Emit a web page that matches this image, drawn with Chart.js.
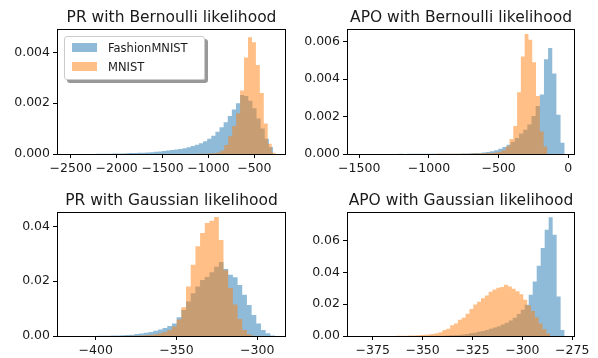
<!DOCTYPE html>
<html>
<head>
<meta charset="utf-8">
<script src="https://cdn.jsdelivr.net/npm/chart.js@4.4.1/dist/chart.umd.min.js"></script>
<style>
  html, body { margin: 0; padding: 0; background: #fff; }
  #fig { position: relative; width: 598px; height: 358px; overflow: hidden; font-family: 'DejaVu Sans', sans-serif; }
  .panel { position: absolute; width: 299px; height: 179px; }
  .legend { position: absolute; left: 64px; top: 36px; width: 141px; height: 44px; box-sizing: border-box;
            background: rgba(255,255,255,.8); border: 1px solid #ccc; border-radius: 3px;
            box-shadow: 3px 3px 0 rgba(0,0,0,.4); font-size: 11.5px; color: #1a1a1a; }
  .legend .sw { position: absolute; left: 7px; width: 25px; height: 9px; }
  .legend .lb { position: absolute; left: 43px; line-height: 12px; white-space: nowrap; }
</style>
</head>
<body>
<div id="fig">
  <div class="panel" style="left:0;top:0"><canvas id="c0" width="299" height="179"></canvas></div>
  <div class="panel" style="left:299px;top:0"><canvas id="c1" width="299" height="179"></canvas></div>
  <div class="panel" style="left:0;top:179px"><canvas id="c2" width="299" height="179"></canvas></div>
  <div class="panel" style="left:299px;top:179px"><canvas id="c3" width="299" height="179"></canvas></div>
  <div class="legend">
    <div class="sw" style="top:6px;background:rgba(31,119,180,.5)"></div><div class="lb" style="top:5px">FashionMNIST</div>
    <div class="sw" style="top:25px;background:rgba(255,127,14,.5)"></div><div class="lb" style="top:24px">MNIST</div>
  </div>
</div>
<script>
// Four density histograms (FashionMNIST vs MNIST).
// Each series: bins = [first edge, bin width], heights = density per bin.

const titles = ['PR with Bernoulli likelihood', 'APO with Bernoulli likelihood',
                'PR with Gaussian likelihood', 'APO with Gaussian likelihood'];
const seriesNames = ['FashionMNIST', 'MNIST'];

const BLUE = 'rgba(31,119,180,0.5)';
const ORANGE = 'rgba(255,127,14,0.5)';
const INK = '#1a1a1a';

// --- PR / Bernoulli
const prBernXTicks = [-2500, -2000, -1500, -1000, -500];
const prBernYTicks = [0, 0.002, 0.004];
const prBernFashionBins = [-2537, 44.8];
const prBernFashion = [
  0.000004, 0, 0, 0.000004, 0, 0.000004, 0.000004, 0.000008, 0.000008, 0.000012, 0.000012, 0.000016, 0.00002,
  0.000024, 0.00003, 0.000035, 0.00004, 0.000045, 0.00005, 0.00006, 0.00007, 0.000085, 0.0001, 0.00012, 0.00014, 0.00016, 0.00018, 0.0002,
  0.00023, 0.00027, 0.00031, 0.00036, 0.00042, 0.0005, 0.0006, 0.00072, 0.00088, 0.00105, 0.00125, 0.0015, 0.00175, 0.002, 0.00232,
  0.00228, 0.0021, 0.0018, 0.0014, 0.001, 0.0006, 0.00028];
const prBernMnistBins = [-2418, 43];
const prBernMnist = [
  0, 0, 0, 0, 0, 0, 0, 0, 0, 0, 0, 0, 0, 0, 0, 0, 0, 0, 0, 0, 0, 0, 0, 0, 0, 0,
  0.000004, 0, 0.000004, 0.000004, 0.000008, 0.000008, 0.000012, 0.00002, 0.00003, 0.00006, 0.00014, 0.00035,
  0.0007, 0.0011, 0.0016, 0.0025, 0.0038, 0.0046, 0.0044, 0.0035, 0.0024, 0.0012, 0.0004, 0.00005];

// --- APO / Bernoulli
const apoBernXTicks = [-1500, -1000, -500, 0];
const apoBernYTicks = [0, 0.002, 0.004, 0.006];
const apoBernFashionBins = [-1514, 29.76];
const apoBernFashion = [
  0.000004, 0, 0, 0, 0.000004, 0, 0.000004, 0, 0.000004, 0.000004,
  0.000008, 0.000004, 0.000008, 0.000008, 0.000008, 0.000012, 0.000008, 0.000012, 0.000012, 0.000015,
  0.000015, 0.000015, 0.000018, 0.00002, 0.00002, 0.000025, 0.00003, 0.00004, 0.00005, 0.00006,
  0.00008, 0.00011, 0.00015, 0.0002, 0.00028, 0.00037, 0.0005, 0.00065, 0.00085, 0.0011,
  0.0013, 0.00158, 0.00203, 0.00256, 0.00318, 0.00505, 0.00565, 0.0043, 0.0021, 0.0006];
const apoBernMnistBins = [-1510, 27.2];
const apoBernMnist = [
  0, 0, 0, 0.000004, 0, 0, 0, 0.000004, 0, 0, 0, 0.000004, 0, 0, 0.000004, 0, 0.000004, 0, 0.000004, 0.000004,
  0.000004, 0.000008, 0.000008, 0.000008, 0.000012, 0.000012, 0.000015, 0.000015, 0.00002, 0.00002,
  0.000025, 0.00003, 0.00003, 0.00004, 0.00005, 0.00006, 0.00008, 0.00012, 0.0002, 0.0004,
  0.0008, 0.0015, 0.0033, 0.0052, 0.0064, 0.0061, 0.0049, 0.0031, 0.0012, 0.0004];

// --- PR / Gaussian
const prGaussXTicks = [-400, -350, -300];
const prGaussYTicks = [0, 0.02, 0.04];
const prGaussFashionBins = [-416.6, 2.9];
const prGaussFashion = [
  0.00003, 0, 0.00003, 0, 0.00003, 0.00003, 0.00006, 0.00006, 0.0001, 0.00015, 0.0002, 0.0003, 0.0004, 0.0005,
  0.0007, 0.0009, 0.0012, 0.0015, 0.0019, 0.0024, 0.0029, 0.0036, 0.0046, 0.0068,
  0.0095, 0.0126, 0.0156, 0.018, 0.0204, 0.0215, 0.0232, 0.0252, 0.027, 0.0244,
  0.0223, 0.0214, 0.0186, 0.015, 0.0113, 0.0077, 0.0046, 0.0022, 0.001, 0.0002];
const prGaussMnistBins = [-416.6, 2.9];
const prGaussMnist = [
  0, 0, 0, 0, 0, 0, 0.00003, 0, 0.00003, 0.00003, 0.00003, 0.00003, 0.00003, 0.00005,
  0.0001, 0.00015, 0.00025, 0.0004, 0.0006, 0.001, 0.0015, 0.0022, 0.0035, 0.006,
  0.0105, 0.018, 0.026, 0.0327, 0.0375, 0.0412, 0.042, 0.0434, 0.035, 0.024,
  0.0175, 0.0115, 0.0062, 0.0022, 0.0006, 0.0001, 0, 0, 0, 0];

// --- APO / Gaussian
const apoGaussXTicks = [-375, -350, -325, -300, -275];
const apoGaussYTicks = [0, 0.02, 0.04, 0.06];
const apoGaussFashionBins = [-378.8, 2];
const apoGaussFashion = [
  0, 0.00001, 0, 0.00001, 0, 0.00001, 0.00001, 0.00002, 0.00002, 0.00003,
  0.00003, 0.00003, 0.00004, 0.00005, 0.00006, 0.00006, 0.00008, 0.0001, 0.00015, 0.0002,
  0.0003, 0.0004, 0.0005, 0.0007, 0.0009, 0.0013, 0.0017, 0.0021, 0.0026, 0.0032,
  0.0038, 0.0045, 0.0053, 0.0062, 0.0072, 0.0084, 0.0098, 0.0115, 0.0138, 0.0165,
  0.0196, 0.0259, 0.0343, 0.0442, 0.0553, 0.0669, 0.0747, 0.0637, 0.0248, 0.0038];
const apoGaussMnistBins = [-382.5, 1.93];
const apoGaussMnist = [
  0.00003, 0, 0, 0, 0, 0.00003, 0, 0.00003, 0.00003, 0.00006,
  0.0001, 0.00013, 0.00018, 0.00025, 0.00035, 0.00045, 0.0006, 0.0008, 0.001, 0.0013,
  0.0018, 0.0024, 0.0038, 0.0045, 0.0068, 0.0078, 0.0103, 0.0115, 0.014, 0.017,
  0.0198, 0.0215, 0.0238, 0.0255, 0.0278, 0.0292, 0.0303, 0.0308, 0.0322, 0.0312,
  0.0298, 0.0282, 0.0262, 0.0228, 0.0192, 0.0158, 0.0118, 0.0078, 0.0042, 0.0015];

const panels = [
  { title: titles[0], yw: 57, padTop: 29, padRight: 13, xh: 25, xMin: -2650, xMax: -155, yMax: 0.00492,
    xTicks: prBernXTicks, yTicks: prBernYTicks, yDec: 3,
    fashion: [prBernFashionBins, prBernFashion], mnist: [prBernMnistBins, prBernMnist] },
  { title: titles[1], yw: 48, padTop: 29, padRight: 23, xh: 25, xMin: -1588, xMax: 48, yMax: 0.00667,
    xTicks: apoBernXTicks, yTicks: apoBernYTicks, yDec: 3,
    fashion: [apoBernFashionBins, apoBernFashion], mnist: [apoBernMnistBins, apoBernMnist] },
  { title: titles[2], yw: 57, padTop: 33, padRight: 13, xh: 22, xMin: -424, xMax: -282.2, yMax: 0.0452,
    xTicks: prGaussXTicks, yTicks: prGaussYTicks, yDec: 2,
    fashion: [prGaussFashionBins, prGaussFashion], mnist: [prGaussMnistBins, prGaussMnist] },
  { title: titles[3], yw: 48, padTop: 33, padRight: 23, xh: 22, xMin: -387.9, xMax: -273.6, yMax: 0.078,
    xTicks: apoGaussXTicks, yTicks: apoGaussYTicks, yDec: 2,
    fashion: [apoGaussFashionBins, apoGaussFashion], mnist: [apoGaussMnistBins, apoGaussMnist] },
];

// step outline: one point per left bin edge, closing point at the last right edge
function hist([start, width], heights) {
  const pts = heights.map((h, i) => ({ x: start + i * width, y: h }));
  pts.push({ x: start + heights.length * width, y: 0 });
  return pts;
}

const fmtX = v => (v < 0 ? '\u2212' : '') + Math.abs(v);
const FONT = { family: 'DejaVu Sans', size: 12.5 };

function framePlugin(title) {
  return {
    id: 'frameTitle',
    afterDraw(chart) {
      const { ctx, chartArea: a } = chart;
      ctx.save();
      ctx.strokeStyle = '#000';
      ctx.lineWidth = 1;
      ctx.strokeRect(Math.round(a.left) + 0.5, Math.round(a.top) + 0.5,
                     Math.round(a.right - a.left) - 1, Math.round(a.bottom - a.top));
      ctx.font = '15.5px "DejaVu Sans"';
      ctx.fillStyle = INK;
      ctx.textAlign = 'center';
      ctx.textBaseline = 'alphabetic';
      ctx.fillText(title, (a.left + a.right) / 2, a.top - 7);
      ctx.restore();
    },
  };
}

panels.forEach((p, i) => {
  const axisGrid = { drawOnChartArea: false, drawTicks: true, tickLength: 4, color: '#000', lineWidth: 1 };
  new Chart(document.getElementById('c' + i), {
    type: 'line',
    data: {
      datasets: [
        { label: seriesNames[0], data: hist(...p.fashion), backgroundColor: BLUE, fill: 'origin', order: 2 },
        { label: seriesNames[1], data: hist(...p.mnist), backgroundColor: ORANGE, fill: 'origin', order: 1 },
      ].map(d => Object.assign(d, { stepped: true, pointRadius: 0, borderWidth: 0, borderColor: 'rgba(0,0,0,0)' })),
    },
    options: {
      responsive: false, animation: false, devicePixelRatio: 1, events: [],
      layout: { padding: { top: p.padTop, right: p.padRight, left: 0, bottom: 0 } },
      plugins: { legend: { display: false }, tooltip: { enabled: false } },
      scales: {
        x: {
          type: 'linear', min: p.xMin, max: p.xMax,
          afterBuildTicks: s => { s.ticks = p.xTicks.map(value => ({ value })); },
          afterFit: s => { s.height = p.xh; },
          grid: axisGrid, border: { display: false },
          ticks: { autoSkip: false, maxRotation: 0, padding: 3, color: INK, font: FONT, callback: fmtX },
        },
        y: {
          type: 'linear', min: 0, max: p.yMax,
          afterBuildTicks: s => { s.ticks = p.yTicks.map(value => ({ value })); },
          afterFit: s => { s.width = p.yw; },
          grid: axisGrid, border: { display: false },
          ticks: { autoSkip: false, padding: 3, color: INK, font: FONT, callback: v => v.toFixed(p.yDec) },
        },
      },
    },
    plugins: [framePlugin(p.title)],
  });
});
</script>
</body>
</html>
